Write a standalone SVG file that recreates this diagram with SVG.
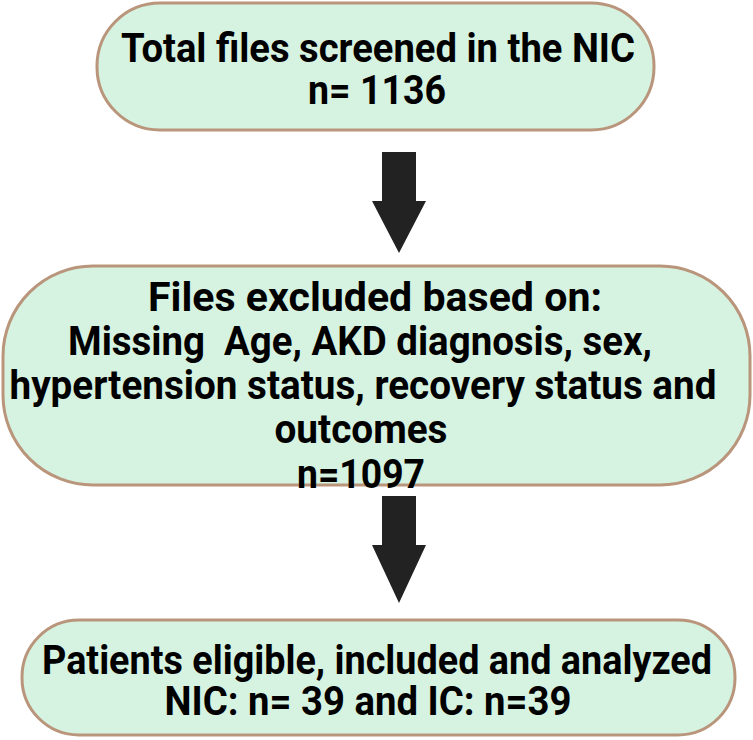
<svg xmlns="http://www.w3.org/2000/svg" width="753" height="740" viewBox="0 0 753 740">
<style>
.box{fill:#d6f2e1;stroke:#b9957b;stroke-width:3}
.t{font-family:Roboto,"Liberation Sans",sans-serif;font-weight:bold;font-size:41px;fill:#000;text-anchor:middle;white-space:pre}
.arr{fill:#222}
</style>
<rect width="753" height="740" fill="#fff"/>
<g id="node-total">
<rect class="box" x="97" y="3" width="557" height="127" rx="63"/>
<text class="t" x="378" y="62" textLength="514" lengthAdjust="spacingAndGlyphs">Total files screened in the NIC</text>
<text class="t" x="377" y="104" textLength="138" lengthAdjust="spacingAndGlyphs">n= 1136</text>
</g>
<g id="connectors">
<polygon class="arr" points="382,152 416,152 416,201 426,201 399,253 372,201 382,201"/>
<polygon class="arr" points="382,496 416,496 416,545 426,545 399,603 372,545 382,545"/>
</g>
<g id="node-excluded">
<rect class="box" x="3" y="266" width="747" height="219" rx="90"/>
<text class="t" x="375" y="311" textLength="454" lengthAdjust="spacingAndGlyphs">Files excluded based on:</text>
<text class="t" x="360" y="355" textLength="584" lengthAdjust="spacingAndGlyphs">Missing  Age, AKD diagnosis, sex,</text>
<text class="t" x="363" y="399" textLength="707" lengthAdjust="spacingAndGlyphs">hypertension status, recovery status and</text>
<text class="t" x="361" y="443" textLength="173" lengthAdjust="spacingAndGlyphs">outcomes</text>
<text class="t" x="361" y="488" textLength="128" lengthAdjust="spacingAndGlyphs">n=1097</text>
</g>
<g id="node-eligible">
<rect class="box" x="22" y="620" width="713" height="115" rx="57"/>
<text class="t" x="377" y="674" textLength="670" lengthAdjust="spacingAndGlyphs">Patients eligible, included and analyzed</text>
<text class="t" x="368" y="715" textLength="407" lengthAdjust="spacingAndGlyphs">NIC: n= 39 and IC: n=39</text>
</g>
</svg>
